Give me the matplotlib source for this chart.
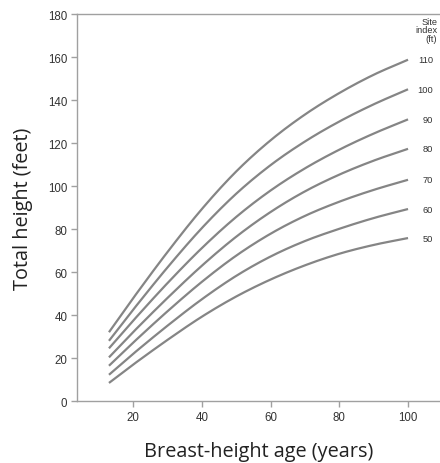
import matplotlib
matplotlib.use("Agg")
import numpy as np
import matplotlib.pyplot as plt

# Breast-height ages (years) at which heights are tabulated
ages = [13, 20, 30, 40, 50, 60, 70, 80, 90, 100]

# Site index classes (ft) and total height (ft) for each
site_index = [110, 100, 90, 80, 70, 60, 50]
h_si110 = [32, 47.75, 69.25, 89.25, 106.75, 121.25, 133.25, 143.25, 151.75, 158.75]
h_si100 = [28, 42.4, 62.1, 80.4, 96.4, 109.7, 120.7, 130.0, 138.0, 145.0]
h_si90 = [24.5, 37.3, 54.8, 71.1, 85.6, 97.9, 108.2, 116.9, 124.4, 131.0]
h_si80 = [20.3, 32.0, 47.9, 62.9, 76.4, 87.9, 97.5, 105.3, 111.8, 117.3]
h_si70 = [16.4, 27.1, 41.7, 55.4, 67.6, 77.8, 86.1, 92.7, 98.2, 102.9]
h_si60 = [12.2, 21.9, 35.0, 47.3, 58.2, 67.2, 74.4, 80.1, 85.1, 89.3]
h_si50 = [8.4, 16.9, 28.4, 39.2, 48.6, 56.5, 63.1, 68.5, 72.6, 75.8]
heights = [h_si110, h_si100, h_si90, h_si80, h_si70, h_si60, h_si50]

x_ticks = [20, 40, 60, 80, 100]
y_ticks = list(range(0, 181, 20))


def smooth_path(x, y, n=20):
    """Catmull-Rom curve passing through every tabulated point."""
    x = np.asarray(x, float)
    y = np.asarray(y, float)
    px = np.concatenate([[2 * x[0] - x[1]], x, [2 * x[-1] - x[-2]]])
    py = np.concatenate([[2 * y[0] - y[1]], y, [2 * y[-1] - y[-2]]])
    xs, ys = [], []
    t = np.linspace(0, 1, n, endpoint=False)
    for i in range(1, len(px) - 2):
        for arr, out in ((px, xs), (py, ys)):
            p0, p1, p2, p3 = arr[i - 1], arr[i], arr[i + 1], arr[i + 2]
            out.append(0.5 * ((2 * p1) + (-p0 + p2) * t
                              + (2 * p0 - 5 * p1 + 4 * p2 - p3) * t ** 2
                              + (-p0 + 3 * p1 - 3 * p2 + p3) * t ** 3))
    xs.append([x[-1]])
    ys.append([y[-1]])
    return np.concatenate(xs), np.concatenate(ys)


fig = plt.figure(figsize=(4.4, 4.64), dpi=100)
ax = fig.add_axes([0.175, 0.1336, 0.825, 0.834])

line_color = "#858585"
spine_color = "#a0a0a0"

for si, h in zip(site_index, heights):
    sx, sy = smooth_path(ages, h)
    ax.plot(sx, sy, color=line_color, lw=1.6, solid_capstyle="butt")
    ax.text(107.3, h[-1], str(si), ha="right", va="center", fontsize=6.7,
            family="Liberation Sans", color="#333333", clip_on=False)

ax.text(108.5, 178.8, "Site\nindex\n(ft)", ha="right", va="top", fontsize=6.7,
        family="Liberation Sans", color="#333333", linespacing=0.95,
        clip_on=False)

ax.set_xlim(3.7, 109.3)
ax.set_ylim(0, 180)
ax.set_xticks(x_ticks)
ax.set_yticks(y_ticks)

for side in ("left", "bottom", "top"):
    ax.spines[side].set_color(spine_color)
    ax.spines[side].set_linewidth(1.0)
ax.spines["right"].set_visible(False)

ax.tick_params(axis="both", colors=spine_color, labelcolor="#333333",
               labelsize=8.3, length=4, width=1.0, pad=3)
for lab in ax.get_xticklabels() + ax.get_yticklabels():
    lab.set_family("Liberation Sans")

ax.set_xlabel("Breast-height age (years)", fontsize=14.3, family="Open Sans",
              color="#222222", labelpad=13)
ax.set_ylabel("Total height (feet)", fontsize=14.3, family="Open Sans",
              color="#222222", labelpad=11)

fig.savefig("out.png", dpi=100)
